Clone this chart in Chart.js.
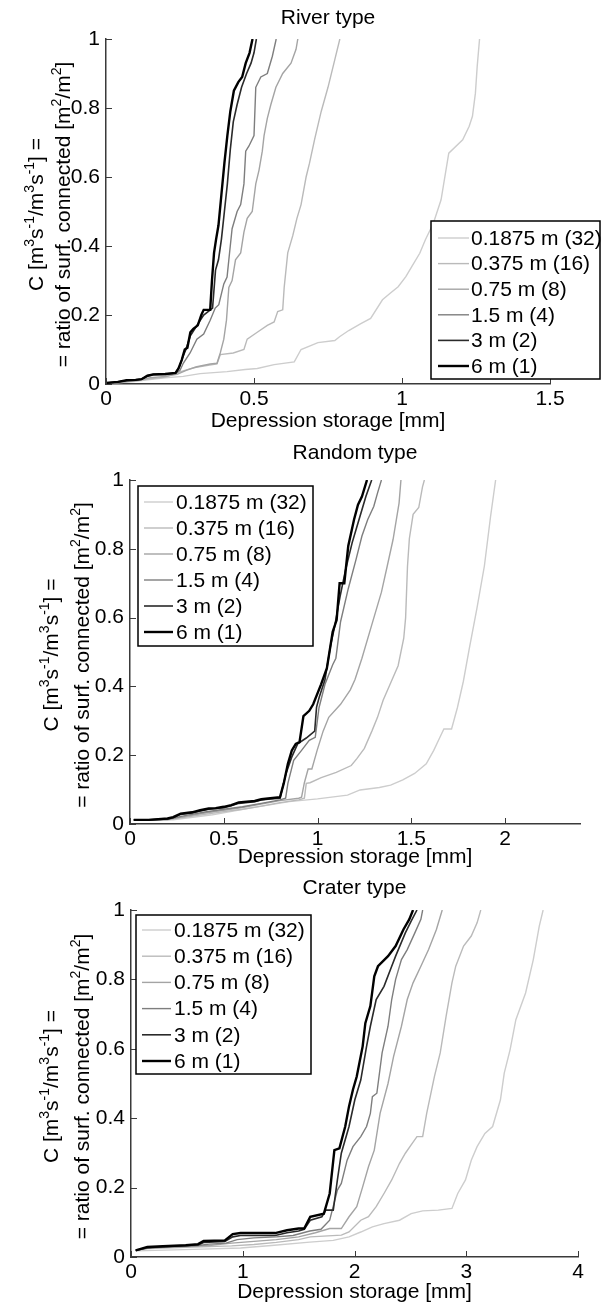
<!DOCTYPE html>
<html>
<head>
<meta charset="utf-8">
<script src="https://cdn.jsdelivr.net/npm/chart.js@4"></script>
<style>
  body { margin: 0; background: #fff; }
  #wrap { position: relative; width: 606px; height: 1303px; }
  .panel { position: absolute; left: 0; width: 606px; }
</style>
</head>
<body>
<div id="wrap">
  <div class="panel" style="top:0;height:436px"><canvas id="riverChart"></canvas></div>
  <div class="panel" style="top:436px;height:432px"><canvas id="randomChart"></canvas></div>
  <div class="panel" style="top:868px;height:435px"><canvas id="craterChart"></canvas></div>
</div>
<script>
// series labels (cell size, aggregation factor)
const sizeLabels = ['0.1875 m (32)', '0.375 m (16)', '0.75 m (8)', '1.5 m (4)', '3 m (2)', '6 m (1)'];

const yTicks = [0, 0.2, 0.4, 0.6, 0.8, 1];
const riverTicksX = [0, 0.5, 1, 1.5];
const randomTicksX = [0, 0.5, 1, 1.5, 2];
const craterTicksX = [0, 1, 2, 3, 4];

// River type: [depression storage mm, C]
const river32 = [[0,0.002],[0.05,0.004],[0.1,0.008],[0.148,0.013],[0.2,0.018],[0.261,0.022],[0.318,0.03],[0.409,0.036],[0.47,0.042],[0.511,0.045],[0.568,0.056],[0.636,0.064],[0.659,0.1],[0.716,0.12],[0.773,0.126],[0.789,0.137],[0.82,0.155],[0.861,0.175],[0.894,0.19],[0.934,0.244],[0.96,0.263],[0.987,0.282],[1.013,0.311],[1.033,0.34],[1.06,0.379],[1.079,0.418],[1.106,0.466],[1.132,0.534],[1.158,0.669],[1.205,0.708],[1.227,0.747],[1.238,0.776],[1.248,0.843],[1.254,0.92],[1.262,1]];
const river16 = [[0,0.003],[0.05,0.005],[0.1,0.009],[0.15,0.015],[0.2,0.02],[0.25,0.035],[0.3,0.048],[0.35,0.055],[0.375,0.058],[0.386,0.085],[0.43,0.09],[0.466,0.1],[0.477,0.13],[0.511,0.15],[0.545,0.17],[0.568,0.18],[0.58,0.21],[0.597,0.215],[0.602,0.28],[0.614,0.38],[0.631,0.43],[0.645,0.48],[0.659,0.52],[0.676,0.6],[0.6875,0.64],[0.705,0.71],[0.727,0.79],[0.75,0.86],[0.773,0.94],[0.79,1]];
const river8 = [[0,0.003],[0.05,0.006],[0.1,0.01],[0.15,0.018],[0.2,0.022],[0.24,0.028],[0.273,0.04],[0.307,0.05],[0.352,0.058],[0.375,0.06],[0.386,0.09],[0.398,0.13],[0.407,0.185],[0.415,0.28],[0.426,0.3],[0.4375,0.36],[0.455,0.38],[0.466,0.44],[0.477,0.48],[0.494,0.5],[0.506,0.58],[0.517,0.62],[0.528,0.675],[0.534,0.72],[0.545,0.77],[0.557,0.81],[0.574,0.86],[0.597,0.9],[0.625,0.93],[0.642,0.97],[0.648,1]];
const river4 = [[0,0.003],[0.04,0.006],[0.07,0.01],[0.1,0.012],[0.12,0.014],[0.14,0.022],[0.16,0.026],[0.2,0.027],[0.235,0.03],[0.25,0.04],[0.261,0.06],[0.284,0.09],[0.307,0.13],[0.33,0.145],[0.352,0.185],[0.369,0.22],[0.381,0.23],[0.398,0.29],[0.409,0.31],[0.415,0.36],[0.426,0.45],[0.443,0.5],[0.455,0.52],[0.466,0.58],[0.472,0.675],[0.483,0.69],[0.5,0.72],[0.506,0.86],[0.523,0.89],[0.545,0.9],[0.562,0.95],[0.575,1]];
const river2 = [[0,0.003],[0.04,0.006],[0.07,0.011],[0.1,0.012],[0.12,0.014],[0.14,0.024],[0.16,0.028],[0.2,0.029],[0.235,0.032],[0.248,0.05],[0.26,0.08],[0.27,0.1],[0.285,0.14],[0.3,0.16],[0.315,0.18],[0.33,0.2],[0.345,0.21],[0.36,0.22],[0.37,0.33],[0.38,0.36],[0.39,0.42],[0.4,0.5],[0.41,0.58],[0.42,0.68],[0.43,0.76],[0.443,0.81],[0.458,0.86],[0.475,0.9],[0.49,0.93],[0.5,0.96],[0.508,1]];
const river1 = [[0,0.003],[0.04,0.006],[0.07,0.011],[0.1,0.012],[0.12,0.014],[0.14,0.024],[0.16,0.028],[0.2,0.029],[0.235,0.032],[0.245,0.045],[0.256,0.07],[0.266,0.1],[0.275,0.105],[0.285,0.15],[0.295,0.16],[0.31,0.17],[0.322,0.2],[0.33,0.215],[0.352,0.215],[0.358,0.3],[0.365,0.38],[0.372,0.42],[0.38,0.46],[0.39,0.55],[0.4,0.64],[0.41,0.72],[0.42,0.79],[0.432,0.85],[0.447,0.875],[0.46,0.89],[0.472,0.93],[0.485,0.96],[0.495,1]];

// Random type
const random32 = [[0.02,0.012],[0.1,0.012],[0.23,0.012],[0.44,0.027],[0.64,0.046],[0.85,0.065],[1.0,0.073],[1.16,0.084],[1.227,0.099],[1.33,0.106],[1.39,0.113],[1.455,0.128],[1.518,0.147],[1.58,0.175],[1.62,0.214],[1.653,0.252],[1.674,0.276],[1.715,0.276],[1.746,0.338],[1.778,0.415],[1.81,0.511],[1.85,0.626],[1.89,0.75],[1.923,0.894],[1.95,1]];
const random16 = [[0.02,0.012],[0.1,0.012],[0.2,0.012],[0.3,0.02],[0.4,0.028],[0.5,0.036],[0.6,0.043],[0.7,0.052],[0.8,0.062],[0.9,0.07],[0.93,0.075],[0.94,0.118],[0.96,0.12],[1.02,0.135],[1.1,0.15],[1.18,0.17],[1.21,0.19],[1.25,0.22],[1.29,0.27],[1.32,0.31],[1.35,0.36],[1.39,0.41],[1.43,0.46],[1.46,0.54],[1.47,0.6],[1.48,0.75],[1.49,0.83],[1.51,0.9],[1.54,0.92],[1.56,0.98],[1.57,1]];
const random8 = [[0.02,0.012],[0.1,0.012],[0.2,0.013],[0.3,0.022],[0.4,0.032],[0.5,0.04],[0.6,0.048],[0.7,0.058],[0.8,0.068],[0.9,0.075],[0.915,0.078],[0.93,0.12],[0.95,0.16],[0.97,0.16],[0.998,0.214],[1.03,0.27],[1.06,0.31],[1.123,0.348],[1.175,0.39],[1.2,0.42],[1.237,0.482],[1.289,0.578],[1.341,0.674],[1.372,0.75],[1.403,0.827],[1.435,0.933],[1.445,1]];
const random4 = [[0.02,0.012],[0.1,0.012],[0.2,0.014],[0.3,0.025],[0.4,0.035],[0.5,0.043],[0.6,0.05],[0.7,0.06],[0.8,0.07],[0.83,0.075],[0.842,0.118],[0.873,0.185],[0.915,0.214],[0.956,0.243],[0.988,0.252],[1.008,0.338],[1.04,0.406],[1.081,0.463],[1.098,0.482],[1.123,0.588],[1.164,0.684],[1.206,0.77],[1.237,0.837],[1.268,0.885],[1.3,0.923],[1.32,0.962],[1.341,1]];
const random2 = [[0.02,0.012],[0.1,0.012],[0.2,0.015],[0.23,0.018],[0.27,0.028],[0.33,0.032],[0.374,0.038],[0.42,0.043],[0.457,0.045],[0.5,0.047],[0.54,0.053],[0.58,0.06],[0.665,0.065],[0.7,0.07],[0.748,0.073],[0.8,0.075],[0.832,0.147],[0.863,0.195],[0.894,0.233],[0.94,0.25],[0.985,0.27],[0.995,0.34],[1.01,0.37],[1.04,0.42],[1.07,0.52],[1.09,0.57],[1.12,0.66],[1.15,0.74],[1.185,0.818],[1.216,0.875],[1.258,0.952],[1.289,1]];
const random1 = [[0.02,0.012],[0.1,0.012],[0.2,0.016],[0.23,0.02],[0.27,0.03],[0.33,0.034],[0.374,0.04],[0.42,0.045],[0.457,0.046],[0.5,0.05],[0.54,0.055],[0.58,0.063],[0.665,0.067],[0.7,0.072],[0.748,0.075],[0.8,0.078],[0.82,0.118],[0.842,0.175],[0.863,0.214],[0.884,0.233],[0.904,0.238],[0.925,0.314],[0.956,0.329],[0.977,0.348],[1.019,0.406],[1.05,0.453],[1.081,0.559],[1.102,0.593],[1.118,0.7],[1.143,0.7],[1.164,0.808],[1.195,0.885],[1.216,0.928],[1.237,0.952],[1.264,1]];

// Crater type
const crater32 = [[0.042,0.018],[0.215,0.019],[0.56,0.022],[0.98,0.026],[1.257,0.033],[1.6,0.043],[1.81,0.048],[1.951,0.058],[2.056,0.072],[2.16,0.087],[2.264,0.096],[2.403,0.106],[2.507,0.125],[2.61,0.133],[2.75,0.135],[2.872,0.14],[2.924,0.183],[2.993,0.222],[3.045,0.279],[3.097,0.318],[3.167,0.356],[3.236,0.376],[3.306,0.453],[3.34,0.53],[3.392,0.597],[3.444,0.684],[3.531,0.761],[3.6,0.857],[3.653,0.953],[3.688,1]];
const crater16 = [[0.042,0.019],[0.146,0.024],[0.285,0.026],[0.49,0.028],[0.7,0.03],[0.9,0.032],[1.1,0.036],[1.3,0.042],[1.5,0.05],[1.604,0.058],[1.882,0.063],[1.951,0.072],[2.056,0.106],[2.125,0.116],[2.194,0.145],[2.264,0.183],[2.333,0.222],[2.403,0.27],[2.455,0.299],[2.507,0.323],[2.559,0.347],[2.61,0.347],[2.646,0.414],[2.715,0.52],[2.767,0.588],[2.82,0.694],[2.872,0.79],[2.906,0.838],[2.976,0.896],[3.045,0.925],[3.097,0.963],[3.13,1]];
const crater8 = [[0.042,0.019],[0.146,0.025],[0.285,0.028],[0.49,0.03],[0.7,0.033],[0.9,0.04],[1.1,0.045],[1.3,0.05],[1.5,0.058],[1.65,0.07],[1.778,0.082],[1.882,0.082],[1.951,0.116],[2.02,0.145],[2.073,0.202],[2.125,0.26],[2.177,0.308],[2.229,0.414],[2.3,0.5],[2.35,0.578],[2.42,0.665],[2.472,0.742],[2.524,0.79],[2.594,0.838],[2.663,0.886],[2.733,0.944],[2.785,1]];
const crater4 = [[0.042,0.019],[0.146,0.026],[0.285,0.029],[0.49,0.031],[0.6,0.033],[0.7,0.037],[0.85,0.04],[0.95,0.05],[1.1,0.055],[1.3,0.058],[1.45,0.062],[1.6,0.075],[1.7,0.08],[1.778,0.106],[1.847,0.193],[1.882,0.212],[1.934,0.279],[1.986,0.318],[2.056,0.347],[2.108,0.376],[2.142,0.414],[2.16,0.462],[2.2,0.472],[2.247,0.588],[2.3,0.665],[2.333,0.742],[2.368,0.8],[2.42,0.857],[2.472,0.886],[2.54,0.934],[2.594,0.973],[2.61,1]];
const crater2 = [[0.042,0.019],[0.146,0.027],[0.285,0.03],[0.49,0.033],[0.6,0.035],[0.65,0.042],[0.84,0.045],[0.91,0.058],[0.98,0.062],[1.29,0.062],[1.396,0.07],[1.5,0.075],[1.55,0.08],[1.604,0.106],[1.708,0.116],[1.743,0.135],[1.81,0.135],[1.847,0.222],[1.882,0.299],[1.951,0.376],[2.003,0.453],[2.056,0.51],[2.108,0.607],[2.142,0.665],[2.194,0.742],[2.264,0.78],[2.333,0.838],[2.368,0.867],[2.455,0.934],[2.507,0.968],[2.559,1]];
const crater1 = [[0.042,0.019],[0.146,0.029],[0.285,0.031],[0.49,0.034],[0.6,0.037],[0.65,0.046],[0.84,0.048],[0.91,0.066],[0.98,0.069],[1.29,0.069],[1.396,0.077],[1.5,0.082],[1.55,0.082],[1.604,0.116],[1.726,0.125],[1.778,0.183],[1.82,0.308],[1.865,0.313],[1.917,0.376],[1.951,0.434],[1.986,0.482],[2.02,0.52],[2.073,0.607],[2.097,0.674],[2.142,0.723],[2.177,0.809],[2.21,0.838],[2.3,0.867],[2.368,0.896],[2.438,0.944],[2.49,0.973],[2.524,1]];

// styles
const lineColors = ['#cdcdcd', '#bababa', '#a4a4a4', '#7e7e7e', '#2a2a2a', '#000000'];
const lineWidths = [1.4, 1.4, 1.4, 1.4, 1.6, 2.4];
const AXIS_COLOR = '#3a3a3a';
const FONT_FAMILY = '"Liberation Sans", Arial, sans-serif';
const FONT_SIZE = 21;
const TICK_LEN = 6;

Chart.defaults.font.family = FONT_FAMILY;
Chart.defaults.font.size = FONT_SIZE;
Chart.defaults.color = '#000';

const yLabel1 = [{t: 'C [m'}, {t: '3', sup: true}, {t: 's'}, {t: '-1', sup: true}, {t: '/m'}, {t: '3', sup: true}, {t: 's'}, {t: '-1', sup: true}, {t: '] ='}];
const yLabel2 = [{t: '= ratio of surf. connected [m'}, {t: '2', sup: true}, {t: '/m'}, {t: '2', sup: true}, {t: ']'}];

function drawRotated(ctx, parts, cx, cy) {
    const main = FONT_SIZE + 'px ' + FONT_FAMILY;
    const small = '14px ' + FONT_FAMILY;
    ctx.save();
    ctx.translate(cx, cy);
    ctx.rotate(-Math.PI / 2);
    let total = 0;
    const widths = parts.map(p => {
        ctx.font = p.sup ? small : main;
        const w = ctx.measureText(p.t).width;
        total += w;
        return w;
    });
    let x = -total / 2;
    ctx.textAlign = 'left';
    ctx.textBaseline = 'alphabetic';
    ctx.fillStyle = '#000';
    parts.forEach((p, i) => {
        ctx.font = p.sup ? small : main;
        ctx.fillText(p.t, x, p.sup ? -1 : 7.5);
        x += widths[i];
    });
    ctx.restore();
}

// titles, inward ticks and legend box, drawn on top of the chart
function decor(cfg) {
    return {
        id: 'decor',
        afterDraw(chart) {
            const ctx = chart.ctx;
            const a = chart.chartArea;
            const xs = chart.scales.x;
            const ys = chart.scales.y;
            ctx.save();

            ctx.strokeStyle = AXIS_COLOR;
            ctx.lineWidth = 1;
            ctx.beginPath();
            xs.ticks.forEach(t => {
                const p = Math.round(xs.getPixelForValue(t.value)) + 0.5;
                ctx.moveTo(p, a.bottom);
                ctx.lineTo(p, a.bottom - TICK_LEN);
            });
            ys.ticks.forEach(t => {
                const p = Math.round(ys.getPixelForValue(t.value)) + 0.5;
                ctx.moveTo(a.left, p);
                ctx.lineTo(a.left + TICK_LEN, p);
            });
            ctx.stroke();

            ctx.fillStyle = '#000';
            ctx.font = FONT_SIZE + 'px ' + FONT_FAMILY;
            ctx.textAlign = 'center';
            ctx.textBaseline = 'middle';
            const cx = (a.left + a.right) / 2;
            ctx.fillText(cfg.title, cx, cfg.titleY);
            ctx.fillText('Depression storage [mm]', cx, cfg.xLabelY);

            const cy = (a.top + a.bottom) / 2 + 3;
            drawRotated(ctx, yLabel1, cfg.yLabelX[0], cy);
            drawRotated(ctx, yLabel2, cfg.yLabelX[1], cy);

            const lg = cfg.legend;
            ctx.fillStyle = '#fff';
            ctx.fillRect(lg.x, lg.y, lg.w, lg.h);
            ctx.strokeStyle = '#000';
            ctx.lineWidth = 1.5;
            ctx.strokeRect(lg.x, lg.y, lg.w, lg.h);
            ctx.font = FONT_SIZE + 'px ' + FONT_FAMILY;
            ctx.textAlign = 'left';
            ctx.textBaseline = 'middle';
            chart.data.datasets.forEach((ds, i) => {
                const y = lg.y + lg.first + i * lg.gap;
                ctx.strokeStyle = ds.borderColor;
                ctx.lineWidth = ds.borderWidth;
                ctx.beginPath();
                ctx.moveTo(lg.x + lg.lineFrom, y);
                ctx.lineTo(lg.x + lg.lineTo, y);
                ctx.stroke();
                ctx.fillStyle = '#000';
                ctx.fillText(ds.label, lg.x + lg.textAt, y + 1);
            });
            ctx.restore();
        }
    };
}

function makeChart(id, series, xMax, xTicks, cfg) {
    const canvas = document.getElementById(id);
    const W = canvas.parentNode.clientWidth;
    const H = canvas.parentNode.clientHeight;
    const area = cfg.area;
    const datasets = series.map((pts, i) => ({
        label: sizeLabels[i],
        data: pts.map(p => ({x: p[0], y: p[1]})),
        borderColor: lineColors[i],
        borderWidth: lineWidths[i],
        pointRadius: 0,
        fill: false,
        tension: 0,
        order: series.length - i
    }));
    const axisCommon = {
        type: 'linear',
        grid: {display: false, drawTicks: false},
        border: {display: true, color: AXIS_COLOR, width: 1.5},
    };
    const plainNumber = value => String(value);
    return new Chart(canvas, {
        type: 'line',
        data: {datasets: datasets},
        options: {
            responsive: true,
            maintainAspectRatio: false,
            animation: false,
            events: [],
            layout: {padding: {top: area.top, right: W - area.right, left: 0, bottom: 0}},
            plugins: {legend: {display: false}, tooltip: {enabled: false}, title: {display: false}},
            scales: {
                x: Object.assign({}, axisCommon, {
                    min: 0, max: xMax,
                    ticks: {padding: 3, maxRotation: 0, autoSkip: false, callback: plainNumber},
                    afterBuildTicks: s => { s.ticks = xTicks.map(v => ({value: v})); },
                    afterFit: s => { s.height = H - area.bottom; s.paddingLeft = 0; s.paddingRight = 0; }
                }),
                y: Object.assign({}, axisCommon, {
                    min: 0, max: 1,
                    ticks: {padding: 6, autoSkip: false, callback: plainNumber},
                    afterBuildTicks: s => { s.ticks = yTicks.map(v => ({value: v})); },
                    afterFit: s => { s.width = area.left; s.paddingTop = 0; s.paddingBottom = 0; }
                })
            }
        },
        plugins: [decor(cfg)]
    });
}

makeChart('riverChart', [river32, river16, river8, river4, river2, river1], 1.5, riverTicksX, {
    area: {left: 106, right: 550, top: 39, bottom: 384},
    title: 'River type', titleY: 18, xLabelY: 421, yLabelX: [35, 62],
    legend: {x: 431, y: 221, w: 169, h: 158, first: 17, gap: 25.6, lineFrom: 7, lineTo: 38, textAt: 40}
});

makeChart('randomChart', [random32, random16, random8, random4, random2, random1], 2.4, randomTicksX, {
    area: {left: 130, right: 580, top: 44, bottom: 388},
    title: 'Random type', titleY: 17, xLabelY: 421, yLabelX: [50, 81],
    legend: {x: 138, y: 50, w: 175, h: 160, first: 16, gap: 26, lineFrom: 6, lineTo: 35, textAt: 38}
});

makeChart('craterChart', [crater32, crater16, crater8, crater4, crater2, crater1], 4, craterTicksX, {
    area: {left: 131, right: 578, top: 42, bottom: 389},
    title: 'Crater type', titleY: 20, xLabelY: 424, yLabelX: [50, 81],
    legend: {x: 136, y: 47, w: 175, h: 159, first: 15, gap: 26.2, lineFrom: 6, lineTo: 35, textAt: 38}
});
</script>
</body>
</html>
